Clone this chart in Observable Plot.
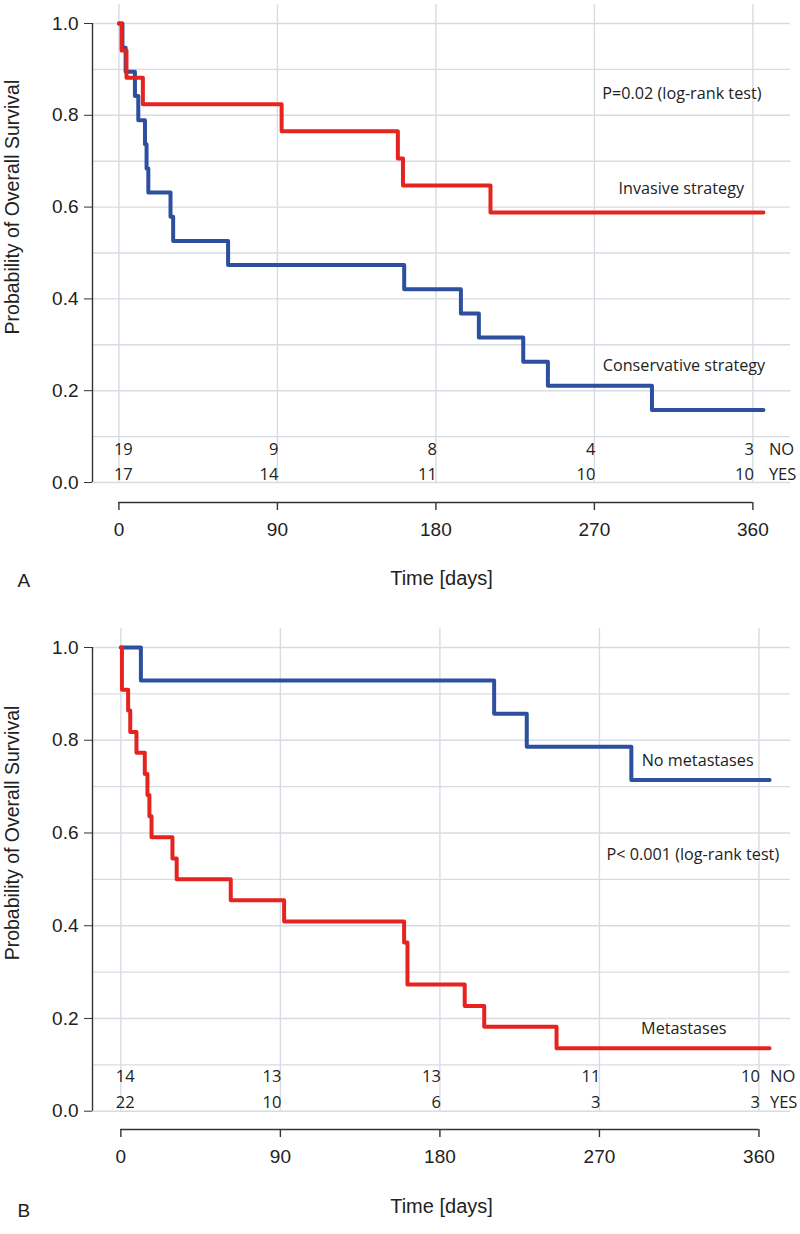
<!DOCTYPE html>
<html>
<head>
<meta charset="utf-8">
<script src="https://cdn.jsdelivr.net/npm/d3@7"></script>
<script src="https://cdn.jsdelivr.net/npm/@observablehq/plot@0.6"></script>
<style>
  body { margin: 0; background: #fff; }
  #chart > div { height: auto; line-height: 0; }
  svg { display: block; }
</style>
</head>
<body>
<div id="chart"></div>
<script>
// ---------- shared ticks ----------
const xTicks = [0, 90, 180, 270, 360];
const yTicks = [0, 0.2, 0.4, 0.6, 0.8, 1.0];
const yGrid = [0, 0.1, 0.2, 0.3, 0.4, 0.5, 0.6, 0.7, 0.8, 0.9, 1.0];
const riskTimes = [0, 90, 180, 270, 360];
const riskRowNames = ["NO", "YES"];

// ---------- panel A ----------
const aInvasiveTime = [0, 1.5, 4.3, 13.6, 92.4, 158.4, 161.3, 211, 366];
const aInvasiveSurv = [1, 0.941, 0.882, 0.824, 0.765, 0.706, 0.647, 0.588, 0.588];
const aConservTime = [0, 2, 3.8, 9.1, 11, 14.8, 15.7, 16.7, 29.3, 30.8, 62, 162, 194.2, 204.4, 229.6, 243.6, 302.7, 366];
const aConservSurv = [1, 0.947, 0.895, 0.842, 0.789, 0.737, 0.684, 0.632, 0.579, 0.526, 0.474, 0.421, 0.368, 0.316, 0.263, 0.211, 0.158, 0.158];
const aRiskNo = [19, 9, 8, 4, 3];
const aRiskYes = [17, 14, 11, 10, 10];
const aTexts = ["P=0.02 (log-rank test)", "Invasive strategy", "Conservative strategy"];

// ---------- panel B ----------
const bNoMetTime = [0, 11.3, 210.6, 229, 288, 366];
const bNoMetSurv = [1, 0.929, 0.857, 0.786, 0.714, 0.714];
const bMetTime = [0, 0.6, 4.1, 5.3, 8.8, 13.5, 15, 16.1, 17.3, 29.1, 31.5, 62, 92.1, 159.8, 161.7, 194, 205, 245.8, 366];
const bMetSurv = [1, 0.909, 0.864, 0.818, 0.773, 0.727, 0.682, 0.636, 0.591, 0.545, 0.5, 0.455, 0.409, 0.364, 0.273, 0.227, 0.182, 0.136, 0.136];
const bRiskNo = [14, 13, 13, 11, 10];
const bRiskYes = [22, 10, 6, 3, 3];
const bTexts = ["No metastases", "P< 0.001 (log-rank test)", "Metastases"];

const yTitle = "Probability of Overall Survival";
const xTitle = "Time [days]";

const RED = "#e5231f";
const BLUE = "#2d4f9f";
const GRID = "#d7dce3";
const AXIS = "#333";
const SANS = "'Liberation Sans', Arial, sans-serif";
const HUMAN = "'Open Sans', 'Noto Sans', sans-serif";

function series(times, survs) {
  return times.map((t, i) => ({t, s: survs[i]}));
}

function panel(cfg) {
  const y0 = cfg.yRange[0]; // pixel of S = 0, also frame bottom
  const riskRows = [];
  riskTimes.forEach((t, i) => {
    riskRows.push({t, n: cfg.riskNo[i], row: "NO", first: i === 0});
    riskRows.push({t, n: cfg.riskYes[i], row: "YES", first: i === 0});
  });
  const rowY = {NO: cfg.rowY[0], YES: cfg.rowY[1]};
  return Plot.plot({
    width: 800,
    height: cfg.height,
    marginTop: cfg.gridTop,
    marginBottom: cfg.height - y0,
    marginLeft: 92,
    marginRight: 10,
    x: {domain: cfg.xDomain, range: cfg.xRange},
    y: {domain: [0, 1], range: cfg.yRange},
    style: {fontFamily: SANS, color: "#222", background: "white", overflow: "visible"},
    marks: [
      Plot.gridY(yGrid, {stroke: GRID, strokeOpacity: 1, strokeWidth: 1.4}),
      Plot.gridX(xTicks, {stroke: GRID, strokeOpacity: 1, strokeWidth: 1.4}),
      Plot.ruleX([cfg.xDomain[0]], {y1: 0, y2: 1, stroke: AXIS, strokeWidth: 1.4}),
      Plot.axisY(yTicks, {tickSize: 8, tickPadding: 6, fontSize: 19, tickFormat: d => d.toFixed(1), label: null, stroke: AXIS}),
      Plot.ruleY([0], {x1: xTicks[0], x2: xTicks[xTicks.length - 1], dy: cfg.axisDy, stroke: AXIS, strokeWidth: 1.4}),
      Plot.axisX(xTicks, {tickSize: 8, tickPadding: 12, dy: cfg.axisDy, fontSize: 19, label: null, stroke: AXIS, strokeWidth: 1.4}),
      // survival curves
      Plot.line(series(cfg.blueT, cfg.blueS), {x: "t", y: "s", curve: "step-after", stroke: BLUE, strokeWidth: 4, strokeLinecap: "round"}),
      Plot.line(series(cfg.redT, cfg.redS), {x: "t", y: "s", curve: "step-after", stroke: RED, strokeWidth: 4, strokeLinecap: "round"}),
      // number at risk
      Plot.text(riskRows.filter(d => d.first), {x: "t", y: d => rowY[d.row], text: d => String(d.n), textAnchor: "start", dx: -5, fontSize: 16.5, fontFamily: HUMAN, fill: "#222"}),
      Plot.text(riskRows.filter(d => !d.first), {x: "t", y: d => rowY[d.row], text: d => String(d.n), textAnchor: "end", dx: 1, fontSize: 16.5, fontFamily: HUMAN, fill: "#222"}),
      Plot.text(riskRowNames, {x: xTicks[xTicks.length - 1], y: d => rowY[d], text: d => d, textAnchor: "start", dx: cfg.rowNameDx, fontSize: 16.5, fontFamily: HUMAN, fill: "#222"}),
      // annotations
      Plot.text(cfg.notes.filter(d => d.anchor === "start"), {x: "t", y: "s", text: "text", textAnchor: "start", fontSize: 16.2, fontFamily: HUMAN, fill: "#222"}),
      Plot.text(cfg.notes.filter(d => d.anchor === "end"), {x: "t", y: "s", text: "text", textAnchor: "end", fontSize: 16.2, fontFamily: HUMAN, fill: "#222"}),
      // axis titles and panel letter
      Plot.text([xTitle], {frameAnchor: "bottom", dy: cfg.timeDy, fontSize: 20, fill: "#222"}),
      Plot.text([yTitle], {x: cfg.xDomain[0], y: cfg.titleS, dx: -80, rotate: -90, fontSize: 19.5, fill: "#222"}),
      Plot.text([cfg.letter], {frameAnchor: "bottom-left", dx: -75, dy: cfg.letterDy, fontSize: 19, fill: "#222"})
    ]
  });
}

const chart = document.getElementById("chart");

chart.append(panel({
  height: 600,
  gridTop: 4,
  xDomain: [-15, 375],
  xRange: [92, 92 + 390 * 1.761],
  yRange: [482, 23],
  axisDy: 20,
  timeDy: 102,
  titleS: 0.6,
  letterDy: 104,
  letter: "A",
  rowNameDx: 16,
  redT: aInvasiveTime, redS: aInvasiveSurv,
  blueT: aConservTime, blueS: aConservSurv,
  riskNo: aRiskNo, riskYes: aRiskYes,
  rowY: [0.072, 0.017],
  notes: [
    {text: aTexts[0], t: 274.5, s: 0.847, anchor: "start"},
    {text: aTexts[1], t: 355, s: 0.640, anchor: "end"},
    {text: aTexts[2], t: 367, s: 0.255, anchor: "end"}
  ]
}));

chart.append(panel({
  height: 634,
  gridTop: 28,
  xDomain: [-16, 375],
  xRange: [92, 92 + 391 * 1.7725],
  yRange: [510.7, 47],
  axisDy: 18.3,
  timeDy: 102,
  titleS: 0.6,
  letterDy: 106,
  letter: "B",
  rowNameDx: 11,
  redT: bMetTime, redS: bMetSurv,
  blueT: bNoMetTime, blueS: bNoMetSurv,
  riskNo: bRiskNo, riskYes: bRiskYes,
  rowY: [0.0744, 0.0183],
  notes: [
    {text: bTexts[0], t: 357, s: 0.755, anchor: "end"},
    {text: bTexts[1], t: 274, s: 0.553, anchor: "start"},
    {text: bTexts[2], t: 341.7, s: 0.178, anchor: "end"}
  ]
}));
</script>
</body>
</html>
